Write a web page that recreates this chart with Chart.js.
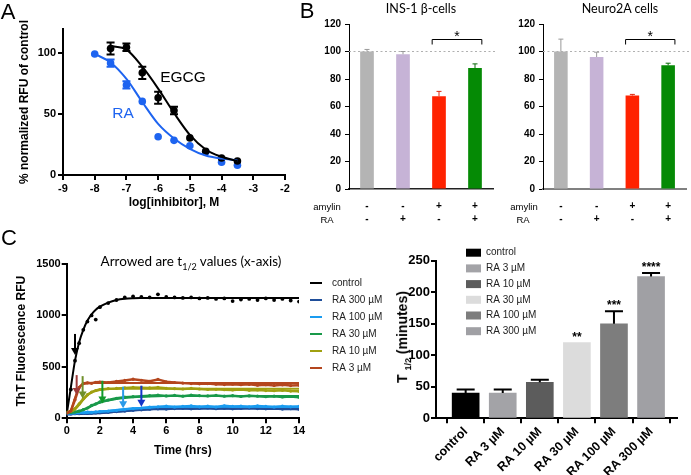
<!DOCTYPE html>
<html><head><meta charset="utf-8">
<script src="https://cdn.jsdelivr.net/npm/chart.js@4.4.1/dist/chart.umd.min.js"></script>
<style>
html,body{margin:0;padding:0;background:#fff}
body{width:691px;height:475px;position:relative;overflow:hidden;font-family:'Liberation Sans',Arial,sans-serif;color:#000}
canvas{position:absolute;display:block}
.t{position:absolute;white-space:nowrap;transform:translate(-50%,-50%);line-height:1}
</style></head><body>
<canvas id="cA" width="300" height="200" style="left:0;top:20px"></canvas>
<canvas id="cB1" width="200" height="230" style="left:300px;top:0"></canvas>
<canvas id="cB2" width="191" height="230" style="left:500px;top:0"></canvas>
<canvas id="cC1" width="390" height="215" style="left:0;top:245px"></canvas>
<canvas id="cC2" width="311" height="230" style="left:380px;top:245px"></canvas>

<div class="t" style="left:8px;top:12px;font-size:22px">A</div>
<div class="t" style="left:307px;top:11px;font-size:22px">B</div>
<div class="t" style="left:9px;top:238px;font-size:22px">C</div>
<div class="t" style="left:183px;top:77px;font-size:15.5px">EGCG</div>
<div class="t" style="left:123px;top:113px;font-size:15.5px;color:#1e64f0">RA</div>
<div class="t" style="left:421px;top:9px;font-family:Lato;font-size:12.5px">INS-1 β-cells</div>
<div class="t" style="left:620px;top:9px;font-family:Lato;font-size:12.5px">Neuro2A cells</div>
<div class="t" style="left:327px;top:207px;font-size:9.5px">amylin</div>
<div class="t" style="left:327px;top:219.5px;font-size:9.5px">RA</div>
<div class="t" style="left:524px;top:207px;font-size:9.5px">amylin</div>
<div class="t" style="left:523px;top:219.5px;font-size:9.5px">RA</div>
<div class="t" style="left:191px;top:263px;font-family:Lato;font-size:13.5px">Arrowed are t<sub style="font-size:9px">1/2</sub> values (x-axis)</div>
<div class="t" style="left:404px;top:337px;transform:translate(-50%,-50%) rotate(-90deg);font-weight:bold;font-size:14px">T <sub style="font-size:9px">1/2</sub> (minutes)</div>

<script>
// ---------- Panel A: dose response ----------
const logConc = [-8, -7.5, -7, -6.5, -6, -5.5, -5, -4.5, -4, -3.5];
const egcgMean = [null, 104, 105, 84, 63.5, 53, 30.5, 19.5, 14, 11.5];
const egcgErr  = [0, 5, 3, 5, 5, 3, 0, 0, 0, 0];
const raMean   = [99.5, 92, 74, 60.5, 31.5, 28.5, 24, 19, 10.5, 8];
const raErr    = [0, 3, 3, 0, 0, 0, 0, 0, 0, 0];
const egcgFit  = [null, 106, 103, 89, 71, 51, 33, 21, 15, 11.5];
const raFit    = [99.5, 92.5, 79, 60, 42, 30, 21.5, 16, 13.5, 12];
const xTicksA = [-9, -8, -7, -6, -5, -4, -3, -2];
const yTicksA = [0, 50, 100];

// ---------- Panel B: cell viability ----------
const amylinRow = ['-', '-', '+', '+'];
const raRow     = ['-', '+', '-', '+'];
const insMean   = [100, 98, 67.5, 88];
const insErr    = [1.5, 2, 3.5, 3];
const neuroMean = [100, 96, 68, 90];
const neuroErr  = [9, 3.5, 0.8, 1.5];

// ---------- Panel C: ThT kinetics ----------
const seriesNames = ['control', 'RA 300 µM', 'RA 100 µM', 'RA 30 µM', 'RA 10 µM', 'RA 3 µM'];
const tGrid = [0,0.25,0.5,0.75,1,1.25,1.5,1.75,2,2.5,3,3.5,4,4.5,5,5.5,6,6.5,7,7.5,8,8.5,9,9.5,10,10.5,11,11.5,12,12.5,13,13.5,14];
const ctrlData  = [60,280,560,730,860,940,1000,960,1080,1120,1150,1175,1185,1180,1175,1205,1180,1175,1170,1175,1165,1170,1160,1165,1140,1155,1160,1150,1165,1150,1160,1145,1135];
const ctrlFit   = [40,300,560,740,860,950,1010,1055,1085,1125,1150,1162,1167,1169,1170,1170,1170,1170,1170,1170,1170,1170,1170,1170,1170,1170,1170,1170,1170,1170,1170,1170,1170];
const ra300Data = [40,42,45,44,48,47,50,52,55,58,65,70,78,82,88,92,90,95,98,92,96,100,94,98,92,96,100,95,92,96,90,94,88];
const ra300Fit  = [40,40,41,42,43,44,46,48,50,56,63,71,78,84,89,92,94,95,96,96,96,96,96,96,96,96,96,96,96,96,96,96,96];
const ra100Data = [50,55,52,58,55,60,58,62,65,70,78,88,95,100,108,112,118,110,115,120,112,118,110,122,115,118,112,120,115,110,118,112,115];
const ra100Fit  = [45,46,48,50,52,55,58,61,64,72,80,88,95,101,106,109,111,112,113,113,113,113,113,113,113,113,113,113,113,113,113,113,113];
const ra30Data  = [55,58,62,70,85,100,125,140,160,178,195,205,210,215,220,225,218,222,215,225,220,218,222,215,220,212,218,215,210,215,208,212,205];
const ra30Fit   = [50,53,58,66,80,98,118,135,150,172,188,198,205,210,213,215,216,217,217,217,217,217,217,217,217,217,217,217,217,217,217,217,217];
const ra10Data  = [60,70,95,140,190,230,255,270,280,288,290,295,300,298,295,300,292,288,285,290,285,280,282,278,275,280,272,275,270,268,272,265,262];
const ra10Fit   = [55,62,85,130,180,222,252,268,276,284,287,288,288,288,288,288,288,288,288,288,288,288,288,288,288,288,288,288,288,288,288,288,288];
const ra3Data   = [50,70,180,300,340,345,340,350,352,348,358,368,380,370,360,378,355,348,342,338,335,338,332,328,332,326,330,322,326,320,325,318,322];
const ra3Fit    = [45,80,200,300,332,340,342,342,342,342,342,342,342,342,342,342,342,342,342,342,342,342,342,342,342,342,342,342,342,342,342,342,342];
const arrowT    = [0.5, 4.5, 3.4, 2.15, 0.96, 0.6];
const arrowFrom = [820, 317, 307, 365, 410, 420];
const arrowTo   = [615, 113, 97, 145, 193, 226];

// ---------- Panel C: t1/2 bars ----------
const t12Cats = ['control', 'RA 3 µM', 'RA 10 µM', 'RA 30 µM', 'RA 100 µM', 'RA 300 µM'];
const t12Mean = [40, 40, 57, 120, 150, 225];
const t12Err  = [5.5, 5.5, 4, 0, 20, 5.5];
const t12Sig  = ['', '', '', '**', '***', '****'];

Chart.defaults.font.family = "'Liberation Sans', Arial, sans-serif";
Chart.defaults.color = '#000';
Chart.defaults.animation = false;
Chart.defaults.plugins.legend.display = false;
Chart.defaults.plugins.tooltip.enabled = false;

const errorBars = {
  id: 'errorBars',
  afterDatasetsDraw(chart) {
    const ctx = chart.ctx, ys = chart.scales.y;
    chart.data.datasets.forEach((ds, di) => {
      if (!ds.errStyle) return;
      const st = ds.errStyle;
      const meta = chart.getDatasetMeta(di);
      meta.data.forEach((el, i) => {
        const d = ds.data[i];
        const v = typeof d === 'number' ? d : d.y;
        const e = (d && typeof d === 'object' && d.e != null) ? d.e : (ds.errUp ? ds.errUp[i] : 0);
        if (!e) return;
        const x = el.x;
        const yTop = ys.getPixelForValue(v + e);
        const yBot = st.both ? ys.getPixelForValue(v - e) : el.y;
        ctx.save();
        ctx.strokeStyle = Array.isArray(st.color) ? st.color[i] : st.color;
        ctx.lineWidth = st.width;
        ctx.beginPath();
        ctx.moveTo(x, yBot); ctx.lineTo(x, yTop);
        ctx.moveTo(x - st.cap, yTop); ctx.lineTo(x + st.cap, yTop);
        if (st.both) { ctx.moveTo(x - st.cap, yBot); ctx.lineTo(x + st.cap, yBot); }
        ctx.stroke();
        ctx.restore();
      });
    });
  }
};

function axisStyle(size, lw, tickLen, pad, step) {
  return {
    ticks: { font: { size: size, weight: 'bold' }, color: '#000', padding: pad, stepSize: step, callback: v => String(v) },
    grid: { drawOnChartArea: false, drawTicks: true, tickLength: tickLen, color: '#000', lineWidth: lw },
    border: { color: '#000', width: lw }
  };
}

// ---------- Chart A ----------
const blueA = '#1e64f0';
const pts = (xs, ys, es) => xs.map((x, i) => ({ x: x, y: ys[i], e: es ? es[i] : 0 })).filter(p => p.y != null);
new Chart(document.getElementById('cA'), {
  type: 'scatter',
  data: { datasets: [
    { data: pts(logConc, egcgFit), showLine: true, borderColor: '#000', borderWidth: 2, pointRadius: 0, cubicInterpolationMode: 'monotone' },
    { data: pts(logConc, raFit), showLine: true, borderColor: blueA, borderWidth: 2, pointRadius: 0, cubicInterpolationMode: 'monotone' },
    { data: pts(logConc, egcgMean, egcgErr), backgroundColor: '#000', borderWidth: 0, pointRadius: 3.8, errStyle: { color: '#000', width: 2, cap: 4, both: true } },
    { data: pts(logConc, raMean, raErr), backgroundColor: blueA, borderWidth: 0, pointRadius: 3.8, errStyle: { color: blueA, width: 2, cap: 4, both: true } }
  ] },
  options: {
    responsive: false, devicePixelRatio: 1,
    layout: { padding: { top: 9, right: 15, left: 0, bottom: 0 } },
    scales: {
      x: Object.assign(axisStyle(11, 2, 5, 2), {
        type: 'linear', min: -9, max: -2,
        afterBuildTicks: s => { s.ticks = xTicksA.map(v => ({ value: v })); },
        afterFit: s => { s.height = 45; },
        title: { display: true, text: 'log[inhibitor], M', font: { size: 12, weight: 'bold' }, padding: { top: 0, bottom: 9.8 } }
      }),
      y: Object.assign(axisStyle(11, 2, 5, 2), {
        type: 'linear', min: 0, max: 120,
        afterBuildTicks: s => { s.ticks = yTicksA.map(v => ({ value: v })); },
        afterFit: s => { s.width = 63; },
        title: { display: true, text: '% normalized RFU of control', font: { size: 12, weight: 'bold' }, padding: { top: 17.8, bottom: 0 } }
      })
    }
  },
  plugins: [errorBars]
});

// ---------- Chart B ----------
function bExtras(extendRight) {
  return {
    id: 'bExtras',
    beforeDatasetsDraw(chart) {
      const ctx = chart.ctx, ys = chart.scales.y, a = chart.chartArea;
      const y = Math.round(ys.getPixelForValue(100)) + 0.5;
      ctx.save();
      ctx.strokeStyle = '#b0b0b0'; ctx.lineWidth = 1; ctx.setLineDash([2, 2.5]);
      ctx.beginPath(); ctx.moveTo(a.left, y); ctx.lineTo(chart.width - extendRight, y); ctx.stroke();
      ctx.restore();
    },
    afterDatasetsDraw(chart) {
      const ctx = chart.ctx, ys = chart.scales.y;
      const meta = chart.getDatasetMeta(0);
      const a = meta.data[2], b = meta.data[3];
      const x1 = a.x - a.width / 2, x2 = b.x + b.width / 2;
      const y = Math.round(ys.getPixelForValue(109)) + 0.5;
      ctx.save();
      ctx.strokeStyle = '#000'; ctx.lineWidth = 1;
      ctx.beginPath(); ctx.moveTo(x1, y + 5); ctx.lineTo(x1, y); ctx.lineTo(x2, y); ctx.lineTo(x2, y + 5); ctx.stroke();
      ctx.fillStyle = '#000'; ctx.font = "14px 'Liberation Sans', Arial"; ctx.textAlign = 'center'; ctx.textBaseline = 'alphabetic';
      ctx.fillText('*', (x1 + x2) / 2, y + 1);
      ctx.restore();
    }
  };
}
const bColors = ['#b4b4b4', '#c6b3d6', '#ff2200', '#058a05'];
const bErrColors = ['#999999', '#9a9a9a', '#e02a10', '#0a6a0a'];
function bChart(id, mean, err, yWidth, padRight, xBorderColor, xBorderWidth, extendRight) {
  return new Chart(document.getElementById(id), {
    type: 'bar',
    data: {
      labels: amylinRow.map((s, i) => [s, raRow[i]]),
      datasets: [{ data: mean, errUp: err, backgroundColor: bColors, borderWidth: 0,
        categoryPercentage: 1, barPercentage: 0.38,
        errStyle: { color: bErrColors, width: 1, cap: 2.5, both: false } }]
    },
    options: {
      responsive: false, devicePixelRatio: 1,
      layout: { padding: { top: 24, right: padRight, left: 0, bottom: 0 } },
      scales: {
        x: {
          ticks: { font: { size: 10, weight: 'bold', lineHeight: 1.26 }, color: '#000', padding: 11.4, autoSkip: false, maxRotation: 0 },
          grid: { display: false, drawTicks: false },
          border: { color: xBorderColor, width: xBorderWidth },
          afterFit: s => { s.height = 41; }
        },
        y: {
          min: 0, max: 120,
          ticks: { stepSize: 20, font: { size: 10, weight: 'bold' }, color: '#000', padding: 4, callback: v => String(v) },
          grid: { drawOnChartArea: false, drawTicks: true, tickLength: 4, color: '#000', lineWidth: 1 },
          border: { color: '#000', width: 1 },
          afterFit: s => { s.width = yWidth; }
        }
      }
    },
    plugins: [bExtras(extendRight), errorBars]
  });
}
bChart('cB1', insMean, insErr, 49, 7, '#222', 1.5, 3);
bChart('cB2', neuroMean, neuroErr, 43, 5, '#808080', 2, 0);

// ---------- Chart C left ----------
const cColors = ['#000000', '#1f4e9a', '#1a9cf0', '#19994a', '#a0a010', '#b4461e'];
const arrowColors = ['#000000', '#1434c8', '#2a9ae8', '#129a2a', '#6f8f2a', '#9e3a3a'];
const cData = [ctrlData, ra300Data, ra100Data, ra30Data, ra10Data, ra3Data];
const cFit = [ctrlFit, ra300Fit, ra100Fit, ra30Fit, ra10Fit, ra3Fit];
const cDatasets = [];
for (let i = seriesNames.length - 1; i >= 0; i--) {
  cDatasets.push({ label: seriesNames[i], data: tGrid.map((t, k) => ({ x: t, y: cData[i][k] })), showLine: i !== 0,
    borderColor: cColors[i], backgroundColor: cColors[i], borderWidth: 2.5, pointRadius: i === 0 ? 1.9 : 1.6, pointBorderWidth: 0 });
  cDatasets.push({ label: seriesNames[i] + ' fit', data: tGrid.map((t, k) => ({ x: t, y: cFit[i][k] })), showLine: true,
    borderColor: cColors[i], borderWidth: 2, pointRadius: 0, cubicInterpolationMode: 'monotone' });
}
const cLeftExtras = {
  id: 'cLeftExtras',
  afterDatasetsDraw(chart) {
    const ctx = chart.ctx, xs = chart.scales.x, ys = chart.scales.y;
    ctx.save();
    arrowT.forEach((t, i) => {
      const x = xs.getPixelForValue(t), y1 = ys.getPixelForValue(arrowFrom[i]), y2 = ys.getPixelForValue(arrowTo[i]);
      ctx.strokeStyle = arrowColors[i]; ctx.fillStyle = arrowColors[i]; ctx.lineWidth = 2;
      ctx.beginPath(); ctx.moveTo(x, y1); ctx.lineTo(x, y2 - 6); ctx.stroke();
      ctx.beginPath(); ctx.moveTo(x - 4, y2 - 7); ctx.lineTo(x + 4, y2 - 7); ctx.lineTo(x, y2); ctx.closePath(); ctx.fill();
    });
    ctx.font = "10px 'Liberation Sans', Arial"; ctx.textBaseline = 'middle'; ctx.textAlign = 'left';
    seriesNames.forEach((n, i) => {
      const y = 38 + i * 17;
      ctx.strokeStyle = cColors[i]; ctx.lineWidth = 2;
      ctx.beginPath(); ctx.moveTo(310, y); ctx.lineTo(322, y); ctx.stroke();
      ctx.fillStyle = '#222'; ctx.fillText(n, 332, y);
    });
    ctx.restore();
  }
};
new Chart(document.getElementById('cC1'), {
  type: 'scatter',
  data: { datasets: cDatasets },
  options: {
    responsive: false, devicePixelRatio: 1,
    layout: { padding: { top: 19, right: 91, left: 0, bottom: 0 } },
    scales: {
      x: Object.assign(axisStyle(11, 2, 5, 1.5, 2), {
        type: 'linear', min: 0, max: 14,
        afterFit: s => { s.height = 41.7; },
        title: { display: true, text: 'Time (hrs)', font: { size: 12, weight: 'bold' }, padding: { top: 0, bottom: 2.2 } }
      }),
      y: Object.assign(axisStyle(11, 2, 5, 1, 500), {
        type: 'linear', min: 0, max: 1500,
        afterFit: s => { s.width = 66.7; },
        title: { display: true, text: 'ThT Fluorescence RFU', font: { size: 12, weight: 'bold' }, padding: { top: 14.5, bottom: 0 } }
      })
    }
  },
  plugins: [cLeftExtras]
});

// ---------- Chart C right ----------
const t12Colors = ['#000000', '#a3a3a7', '#5c5c5c', '#dcdcdc', '#7d7d7d', '#a0a0a4'];
const cRightExtras = {
  id: 'cRightExtras',
  afterDatasetsDraw(chart) {
    const ctx = chart.ctx, ys = chart.scales.y, meta = chart.getDatasetMeta(0);
    ctx.save();
    ctx.fillStyle = '#000'; ctx.font = "bold 12px 'Liberation Sans', Arial"; ctx.textAlign = 'center'; ctx.textBaseline = 'alphabetic';
    t12Sig.forEach((s, i) => {
      if (!s) return;
      const y = ys.getPixelForValue(t12Mean[i] + t12Err[i]) - 8;
      ctx.fillText(s, meta.data[i].x, y + 6);
    });
    ctx.font = "10px 'Liberation Sans', Arial"; ctx.textAlign = 'left'; ctx.textBaseline = 'middle';
    t12Cats.forEach((c, i) => {
      const y = 7.7 + i * 15.7;
      ctx.fillStyle = t12Colors[i]; ctx.fillRect(86, y - 4, 15, 8);
      ctx.fillStyle = '#222'; ctx.fillText(c, 106, y);
    });
    ctx.restore();
  }
};
new Chart(document.getElementById('cC2'), {
  type: 'bar',
  data: { datasets: [{ data: t12Mean.map((v, i) => ({ x: i, y: v })), errUp: t12Err, backgroundColor: t12Colors,
    borderWidth: 0, barThickness: 27, errStyle: { color: '#000', width: 2, cap: 9, both: false } }] },
  options: {
    responsive: false, devicePixelRatio: 1,
    layout: { padding: { top: 15.7, right: 14, left: 0, bottom: 0 } },
    scales: {
      x: {
        type: 'linear', min: -0.8, max: 5.7, offset: false,
        afterBuildTicks: s => { s.ticks = t12Cats.map((c, i) => ({ value: i })); },
        afterFit: s => { s.height = 56.7; },
        ticks: { font: { size: 12.5, weight: 'bold' }, color: '#000', padding: 1, autoSkip: false, minRotation: 45, maxRotation: 45, callback: v => t12Cats[v] },
        grid: { drawOnChartArea: false, drawTicks: true, tickLength: 5, color: '#000', lineWidth: 2 },
        border: { color: '#000', width: 2 }
      },
      y: {
        type: 'linear', min: 0, max: 250,
        afterFit: s => { s.width = 56; },
        ticks: { stepSize: 50, font: { size: 13, weight: 'bold' }, color: '#000', padding: 1, callback: v => String(v) },
        grid: { drawOnChartArea: false, drawTicks: true, tickLength: 5, color: '#000', lineWidth: 2 },
        border: { color: '#000', width: 2 }
      }
    }
  },
  plugins: [errorBars, cRightExtras]
});
</script>
</body></html>
